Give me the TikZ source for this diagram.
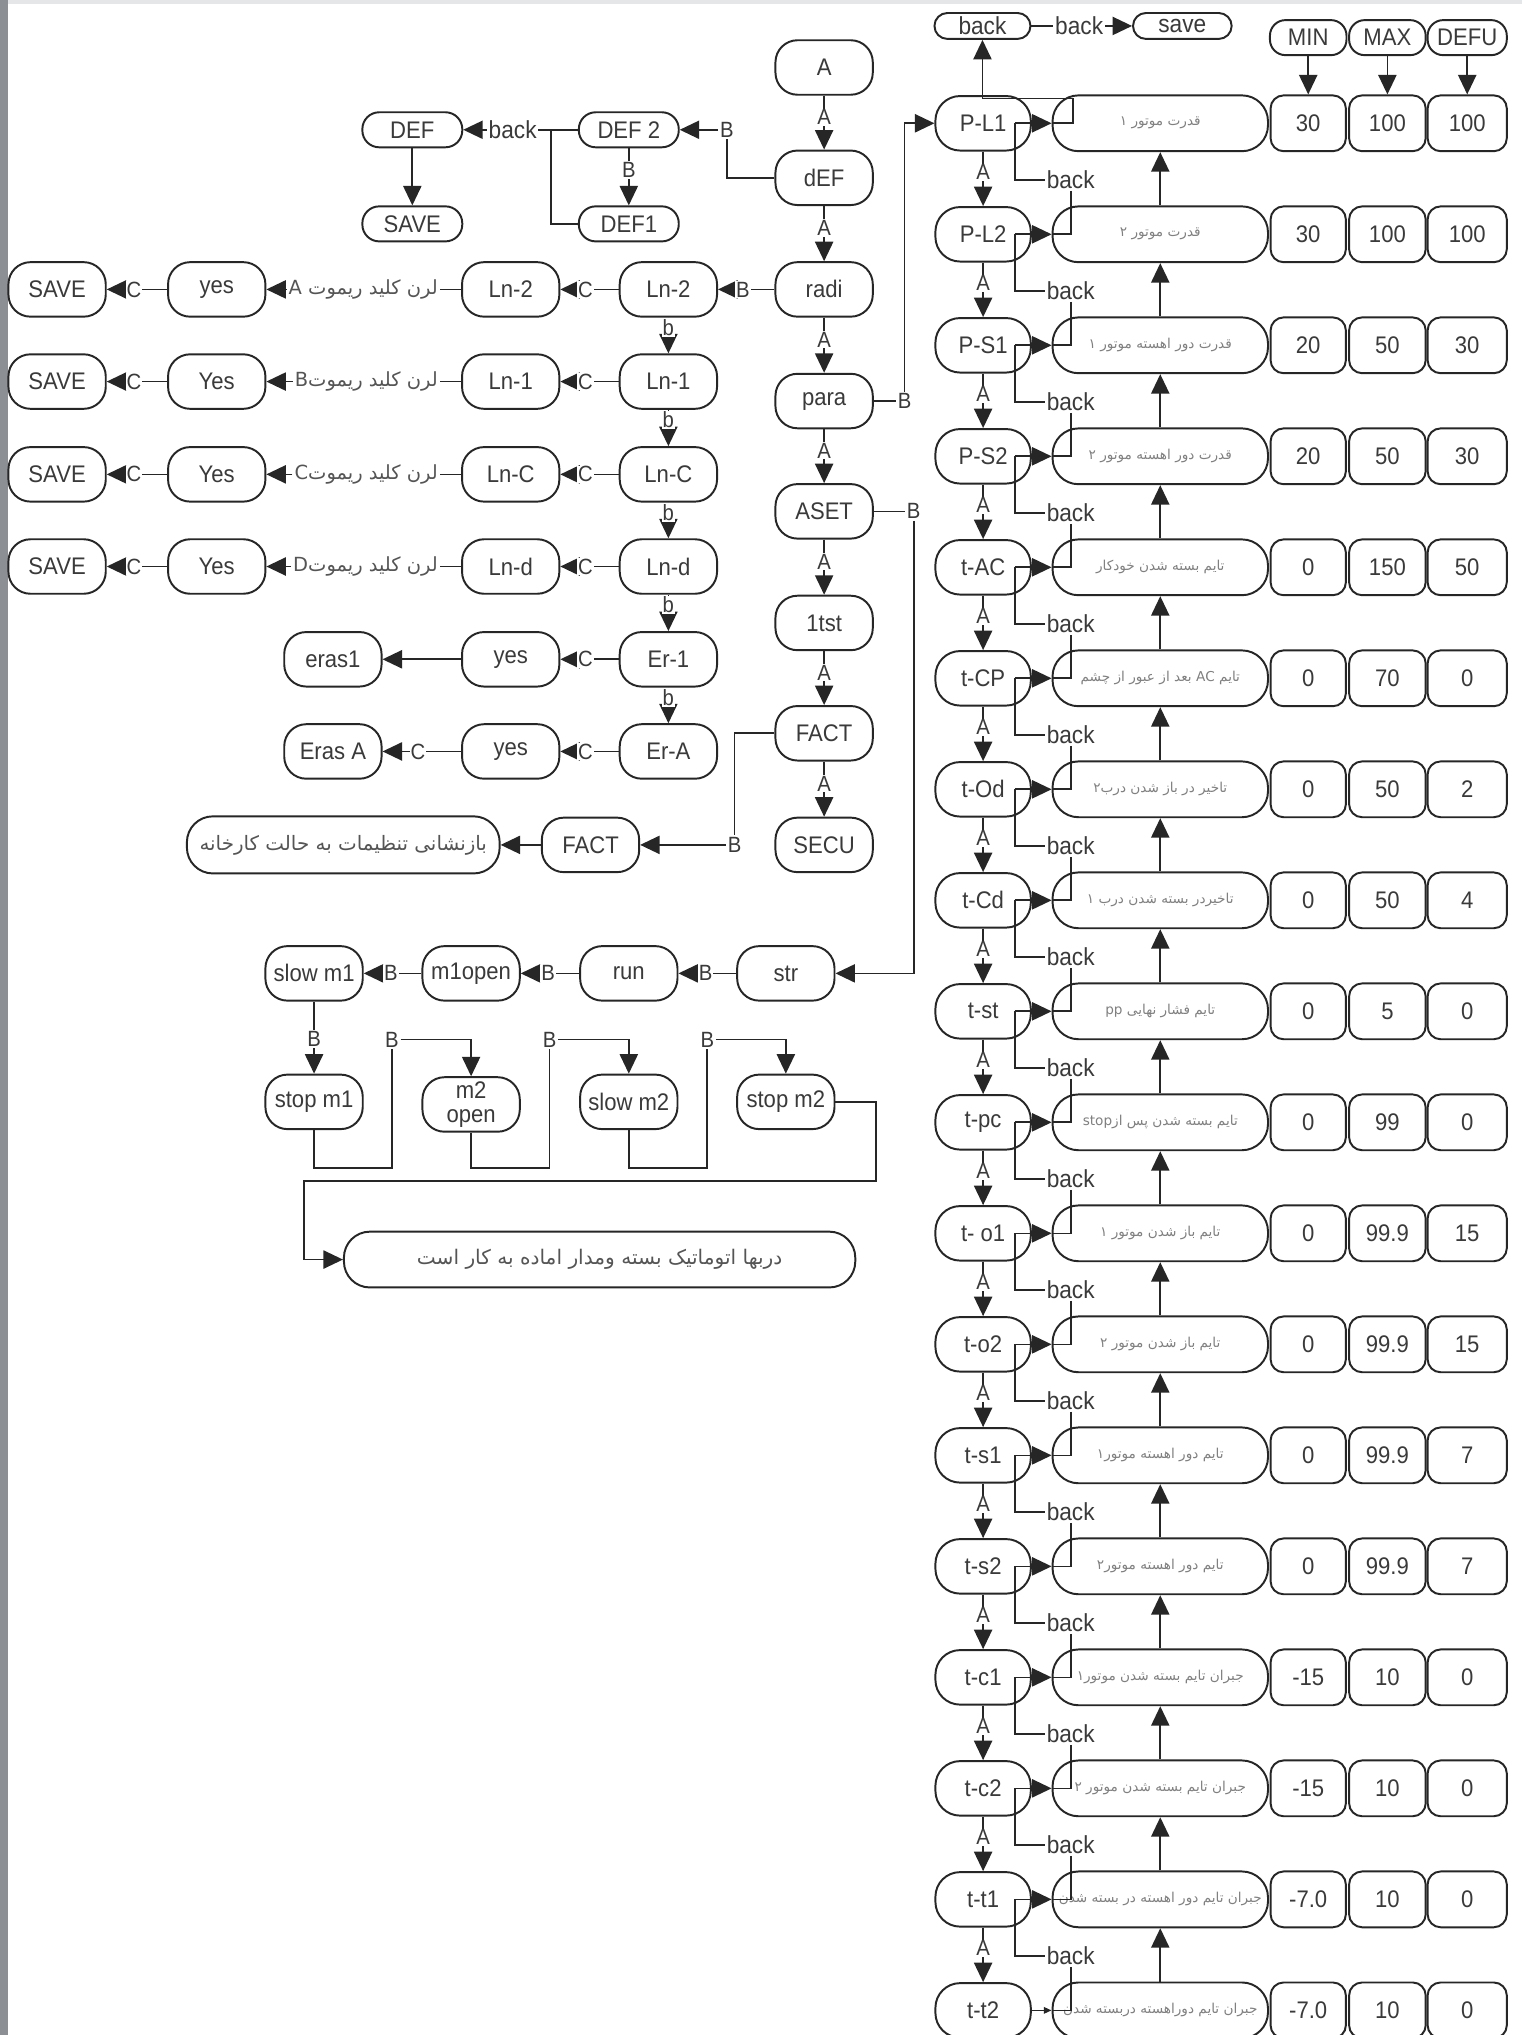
\documentclass[tikz,border=0pt]{standalone}
\usepackage{fontspec}
\setmainfont{Liberation Sans}[FakeStretch=0.92]
\newfontfamily\persfont[Script=Arabic]{DejaVu Sans}
\TeXXeTstate=1
\usetikzlibrary{arrows.meta}
\definecolor{lc}{HTML}{262626}
\definecolor{tc}{HTML}{3A3A3A}
\definecolor{pc}{HTML}{555555}
\definecolor{dc}{HTML}{808080}
\definecolor{barc}{HTML}{8C9095}
\definecolor{topc}{HTML}{E4E6E8}
\newcommand\myfN{\fontsize{18.5}{16}\selectfont}
\newcommand\myfL{\fontsize{17}{17}\selectfont}
\newcommand\myfB{\fontsize{19}{20}\selectfont}
\newcommand\myfP{\persfont\fontsize{15}{16}\selectfont}
\newcommand\myfD{\persfont\fontsize{10.5}{11}\selectfont}
\begin{document}
\begin{tikzpicture}[x=1pt,y=-1pt,line width=1.3pt,color=lc,
  nd/.style={draw,line width=1.5pt,rounded corners=17pt,minimum width=75pt,minimum height=42pt,inner sep=0pt,text=tc,font=\myfN,fill=white},
  sm/.style={draw,line width=1.5pt,rounded corners=13pt,minimum width=77pt,minimum height=27pt,inner sep=0pt,text=tc,font=\myfN,fill=white},
  rn/.style={draw,line width=1.5pt,rounded corners=19pt,minimum width=73.5pt,minimum height=42pt,inner sep=0pt,text=tc,font=\myfN,fill=white},
  dn/.style={draw,line width=1.5pt,rounded corners=20pt,minimum width=166pt,minimum height=43pt,inner sep=0pt,text=dc,font=\myfD,fill=white},
  vn/.style={draw,line width=1.5pt,rounded corners=10pt,minimum height=43pt,inner sep=0pt,text=tc,font=\myfN,fill=white},
  hn/.style={draw,line width=1.5pt,rounded corners=12pt,minimum height=27pt,inner sep=0pt,text=tc,font=\myfN,fill=white},
  tn/.style={draw,line width=1.5pt,rounded corners=10pt,minimum height=20pt,inner sep=0pt,text=tc,font=\myfB,fill=white},
  bign/.style={draw,line width=1.5pt,rounded corners=20pt,minimum height=44pt,inner sep=0pt,text=pc,fill=white},
  lab/.style={fill=white,inner sep=0.8pt,text=tc,font=\myfL},
  bkl/.style={fill=white,inner sep=0.8pt,text=tc,font=\myfB},
  ptx/.style={inner sep=1pt,text=pc,font=\myfP},
  arr/.style={-{Triangle[length=15pt,width=14pt]}}]
\useasboundingbox (0,0) rectangle (1173,1568);
\fill[white] (0,0) rectangle (1173,1568);
\fill[topc] (0,0) rectangle (1173,3);
\fill[barc] (0,0) rectangle (6.5,1568);

% ---------- centre column ----------
\node[nd] (cA) at (635,52) {A};
\node[nd] (cdEF) at (635,137) {dEF};
\node[nd] (cradi) at (635,223) {radi};
\node[nd] (cpara) at (635,309) {para};
\node[nd] (cASET) at (635,394) {ASET};
\node[nd] (c1tst) at (635,480) {1tst};
\node[nd] (cFACT) at (635,565) {FACT};
\node[nd] (cSECU) at (635,651) {SECU};
\draw[arr] (cA.south) -- node[lab,pos=0.4]{A} (cdEF.north);
\draw[arr] (cdEF.south) -- node[lab,pos=0.4]{A} (cradi.north);
\draw[arr] (cradi.south) -- node[lab,pos=0.4]{A} (cpara.north);
\draw[arr] (cpara.south) -- node[lab,pos=0.4]{A} (cASET.north);
\draw[arr] (cASET.south) -- node[lab,pos=0.4]{A} (c1tst.north);
\draw[arr] (c1tst.south) -- node[lab,pos=0.4]{A} (cFACT.north);
\draw[arr] (cFACT.south) -- node[lab,pos=0.4]{A} (cSECU.north);

% ---------- DEF group ----------
\node[sm] (DEFa) at (317.7,100) {DEF};
\node[sm] (DEFb) at (484.5,100) {DEF 2};
\node[sm] (DEFc) at (484.5,172.5) {DEF1};
\node[sm] (SAVEd) at (317.7,172.5) {SAVE};
\node[lab] (dB) at (560,100) {B};
\draw (cdEF.west) -| (dB.south);
\draw[arr] (dB.west) -- (DEFb.east);
\node[bkl] (dbk) at (395,100) {back};
\draw (DEFb.west) -- (dbk.east);
\draw[arr] (dbk.west) -- (DEFa.east);
\draw (DEFc.west) -| (424.5,100);
\draw[arr] (DEFb.south) -- node[lab,pos=0.38]{B} (DEFc.north);
\draw[arr] (DEFa.south) -- (SAVEd.north);

% ---------- learn rows ----------
\node[nd] (S1) at (44,223) {SAVE};
\node[nd] (Y1) at (167,223) {yes};
\node[nd] (L2a) at (393.5,223) {Ln-2};
\node[nd] (L2b) at (515,223) {Ln-2};
\node[ptx,anchor=east] (P1) at (339,223) {\beginR لرن کلید ریموت A\endR};
\node[nd] (S2) at (44,294) {SAVE};
\node[nd] (Y2) at (167,294) {Yes};
\node[nd] (L1a) at (393.5,294) {Ln-1};
\node[nd] (L1b) at (515,294) {Ln-1};
\node[ptx,anchor=east] (P2) at (339,294) {\beginR لرن کلید ریموت\kern0pt B\endR};
\node[nd] (S3) at (44,365.5) {SAVE};
\node[nd] (Y3) at (167,365.5) {Yes};
\node[nd] (LCa) at (393.5,365.5) {Ln-C};
\node[nd] (LCb) at (515,365.5) {Ln-C};
\node[ptx,anchor=east] (P3) at (339,365.5) {\beginR لرن کلید ریموت\kern0pt C\endR};
\node[nd] (S4) at (44,436.5) {SAVE};
\node[nd] (Y4) at (167,436.5) {Yes};
\node[nd] (Lda) at (393.5,436.5) {Ln-d};
\node[nd] (Ldb) at (515,436.5) {Ln-d};
\node[ptx,anchor=east] (P4) at (339,436.5) {\beginR لرن کلید ریموت\kern0pt D\endR};
\node[nd] (E1x) at (256.5,508) {eras1};
\node[nd] (Y5) at (393.5,508) {yes};
\node[nd] (Er1) at (515,508) {Er-1};
\node[nd] (EAx) at (256.5,579) {Eras A};
\node[nd] (Y6) at (393.5,579) {yes};
\node[nd] (ErA) at (515,579) {Er-A};

\draw[arr] (cradi.west) -- node[lab,pos=0.56]{B} (L2b.east);
\foreach \ra/\rb/\pp/\yy/\ss in {L2a/L2b/P1/Y1/S1, L1a/L1b/P2/Y2/S2, LCa/LCb/P3/Y3/S3, Lda/Ldb/P4/Y4/S4}{
  \draw[arr] (\rb.west) -- node[lab,pos=0.57]{C} (\ra.east);
  \draw (\ra.west) -- (\pp.east);
  \draw[arr] (\pp.west) -- (\yy.east);
  \draw[arr] (\yy.west) -- node[lab,pos=0.55]{C} (\ss.east);
}
\draw[arr] (Er1.west) -- node[lab,pos=0.57]{C} (Y5.east);
\draw[arr] (Y5.west) -- (E1x.east);
\draw[arr] (ErA.west) -- node[lab,pos=0.57]{C} (Y6.east);
\draw[arr] (Y6.west) -- node[lab,pos=0.55]{C} (EAx.east);
\foreach \ua/\ub in {L2b/L1b, L1b/LCb, LCb/Ldb, Ldb/Er1, Er1/ErA}{
  \draw[arr] (\ua.south) -- node[lab,pos=0.28]{b} (\ub.north);
}

% ---------- factory reset ----------
\node[nd] (F2) at (455,651) {FACT};
\node[bign,minimum width=241pt,font=\persfont\fontsize{15.3}{16}\selectfont] (bigF) at (264.5,651) {\beginR بازنشانی تنظیمات به حالت کارخانه\endR};
\node[lab] (fB) at (566,651) {B};
\draw (cFACT.west) -| (fB.north);
\draw[arr] (fB.west) -- (F2.east);
\draw[arr] (F2.west) -- (bigF.east);

% ---------- str chain ----------
\node[nd] (bs1) at (242,750) {slow m1};
\node[nd] (bm1) at (363,750) {m1open};
\node[nd] (brun) at (484.5,750) {run};
\node[nd] (bstr) at (605.5,750) {str};
\node[nd] (bsp1) at (242,849) {stop m1};
\node[nd,align=center,font=\fontsize{18.5}{18}\selectfont] (bm2) at (363,851) {m2\\open};
\node[nd] (bsl2) at (484.5,849) {slow m2};
\node[nd] (bsp2) at (605.5,849) {stop m2};
\node[bign,minimum width=394pt,minimum height=43pt,font=\persfont\fontsize{15.5}{16}\selectfont] (bigD) at (462,970.5) {\beginR دربها اتوماتیک بسته ومدار اماده به کار است\endR};
\draw[arr] (bstr.west) -- node[lab,pos=0.53]{B} (brun.east);
\draw[arr] (brun.west) -- node[lab,pos=0.53]{B} (bm1.east);
\draw[arr] (bm1.west) -- node[lab,pos=0.53]{B} (bs1.east);
\draw[arr] (bs1.south) -- node[lab,pos=0.52]{B} (bsp1.north);
\node[lab] (lb1) at (302,801) {B};
\node[lab] (lb2) at (423.5,801) {B};
\node[lab] (lb3) at (545,801) {B};
\draw (bsp1.south) -- ++(0,29) -| (lb1.south);
\draw[arr] (lb1.east) -| (bm2.north);
\draw (bm2.south) -- ++(0,27) -| (lb2.south);
\draw[arr] (lb2.east) -| (bsl2.north);
\draw (bsl2.south) -- ++(0,29) -| (lb3.south);
\draw[arr] (lb3.east) -| (bsp2.north);
\draw[arr] (bsp2.east) -- ++(31,0) |- (234,910) |- (bigD.west);

% ---------- parameter block ----------
\node[tn,minimum width=74pt] (tb) at (757,20) {back};
\node[bkl] (tbl) at (831.5,20) {back};
\node[tn,minimum width=76pt] (ts) at (911,20) {save};
\draw (tb.east) -- (tbl.west);
\draw[arr] (tbl.east) -- (ts.west);
\node[hn,minimum width=59pt] (hA) at (1008,29) {MIN};
\node[hn,minimum width=59pt] (hB) at (1069,29) {MAX};
\node[hn,minimum width=61pt] (hC) at (1130.5,29) {DEFU};

\foreach \i/\rnm/\dsc/\vA/\vB/\vC in {
 0/P-L1/{قدرت موتور ۱}/30/100/100,
 1/P-L2/{قدرت موتور ۲}/30/100/100,
 2/P-S1/{قدرت دور اهسته موتور ۱}/20/50/30,
 3/P-S2/{قدرت دور اهسته موتور ۲}/20/50/30,
 4/t-AC/{تایم بسته شدن خودکار}/0/150/50,
 5/t-CP/{تایم AC بعد از عبور از چشم}/0/70/0,
 6/t-Od/{تاخیر در باز شدن درب۲}/0/50/2,
 7/t-Cd/{تاخیردر بسته شدن درب ۱}/0/50/4,
 8/t-st/{تایم فشار نهایی pp}/0/5/0,
 9/t-pc/{تایم بسته شدن پس از\kern0pt stop}/0/99/0,
 10/t- o1/{تایم باز شدن موتور ۱}/0/99.9/15,
 11/t-o2/{تایم باز شدن موتور ۲}/0/99.9/15,
 12/t-s1/{تایم دور اهسته موتور۱}/0/99.9/7,
 13/t-s2/{تایم دور اهسته موتور۲}/0/99.9/7,
 14/t-c1/{جبران تایم بسته شدن موتور۱}/-15/10/0,
 15/t-c2/{جبران تایم بسته شدن موتور ۲}/-15/10/0,
 16/t-t1/{جبران تایم دور اهسته در بسته شدن}/-7.0/10/0,
 17/t-t2/{جبران تایم دوراهسته دربسته شدن}/-7.0/10/0}{
  \pgfmathsetmacro\yy{95+85.53*\i}
  \node[rn] (r\i) at (757.5,\yy) {\rnm};
  \node[dn] (d\i) at (894,\yy) {\beginR \dsc\endR};
  \node[vn,minimum width=58pt] (va\i) at (1008,\yy) {\vA};
  \node[vn,minimum width=59pt] (vb\i) at (1069,\yy) {\vB};
  \node[vn,minimum width=61pt] (vc\i) at (1130.5,\yy) {\vC};
}
\draw[arr] (hA.south) -- (va0.north);
\draw[arr] (hB.south) -- (vb0.north);
\draw[arr] (hC.south) -- (vc0.north);
\draw[arr] (d0.west) -- (826.5,95) |- (757,76) -- (tb.south);

\foreach \i in {0,...,16}{
  \pgfmathtruncatemacro\j{\i+1}
  \pgfmathsetmacro\yy{95+85.53*\i}
  \coordinate (ka\i) at (782,\yy);
  \draw[arr] (ka\i) -- (d\i.west);
  \node[bkl] (bk\i) at (825,\yy+43.6) {back};
  \draw (ka\i) |- (bk\i.west);
  \draw (bk\i.south) |- (d\j.west);
  \draw[arr] (d\j.north) -- (d\i.south);
  \draw[arr] (r\i.south) -- node[lab,pos=0.38]{A} (r\j.north);
}
\draw[-{Triangle[length=6pt,width=5pt]}] (r17.east) -- (d17.west);

% para / ASET links
\node[lab] (pB) at (697,309) {B};
\draw (cpara.east) -- (pB.west);
\draw[arr] (pB.north) |- (r0.west);
\node[lab] (aB) at (704,394) {B};
\draw (cASET.east) -- (aB.west);
\draw[arr] (aB.south) |- (bstr.east);
\end{tikzpicture}
\end{document}
